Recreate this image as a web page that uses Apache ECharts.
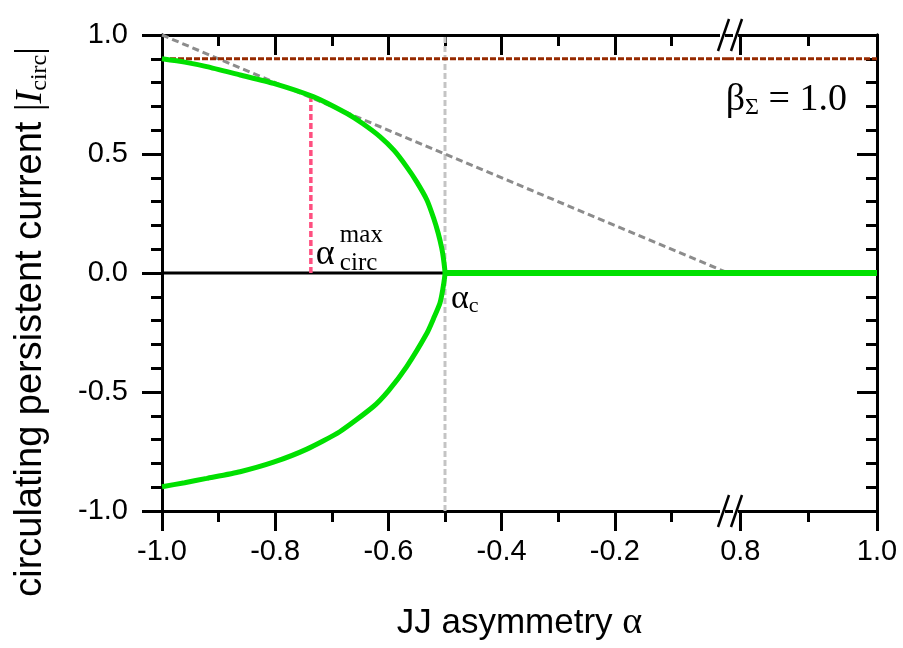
<!DOCTYPE html>
<html>
<head>
<meta charset="utf-8">
<script src="https://cdn.jsdelivr.net/npm/echarts@6/dist/echarts.min.js"></script>
<style>
  html, body { margin: 0; padding: 0; background: #ffffff; }
  #chart { width: 903px; height: 648px; }
</style>
</head>
<body>
<div id="chart"></div>
<script>
// Circulating persistent current |I_circ| versus JJ asymmetry alpha (beta_Sigma = 1.0)

// Upper branch of the current (alpha, I)
const upperAlpha   = [-1.0, -0.96, -0.921, -0.862, -0.803, -0.733, -0.674, -0.645, -0.615, -0.59, -0.568, -0.55, -0.532, -0.52, -0.512, -0.506, -0.503, -0.5];
const upperCurrent = [0.90, 0.886, 0.867, 0.832, 0.797, 0.741, 0.671, 0.627, 0.573, 0.515, 0.447, 0.383, 0.307, 0.23, 0.167, 0.107, 0.065, 0.0];
// Lower branch of the current (alpha, I)
const lowerAlpha   = [-1.0, -0.96, -0.921, -0.862, -0.803, -0.744, -0.686, -0.627, -0.60, -0.568, -0.532, -0.52, -0.509, -0.504, -0.5];
const lowerCurrent = [-0.898, -0.881, -0.863, -0.835, -0.795, -0.74, -0.667, -0.562, -0.495, -0.394, -0.253, -0.19, -0.127, -0.07, 0.0];

// Zero-current state beyond the critical asymmetry
const zeroLeftAlpha  = [-0.5, 0.0];
const zeroRightAlpha = [0.782, 1.0];
// Zero line before the critical asymmetry
const baselineAlpha = [-1.0, -0.5];

// Saturation level of the current
const saturationLevel = 0.9;
// Reference diagonal |I| = |alpha|
const diagonalAlpha   = [-1.0, 0.0];
const diagonalCurrent = [1.0, 0.0];
// Critical asymmetry and position of the maximum circulating asymmetry
const alphaCritical = -0.5;
const alphaCircMax = -0.737;
const currentAtCircMax = 0.744;

// Broken x axis: two segments
const leftRange  = [-1.0, 0.0];
const rightRange = [0.782, 1.0];
const leftMajor  = [-1.0, -0.8, -0.6, -0.4, -0.2];
const leftMinor  = [-0.9, -0.7, -0.5, -0.3, -0.1];
const rightMajor = [0.8, 1.0];
const rightMinor = [0.9];
const yRange = [-1.0, 1.0];
const yMajor = [-1.0, -0.5, 0.0, 0.5, 1.0];
const yMinor = [-0.9, -0.8, -0.7, -0.6, -0.4, -0.3, -0.2, -0.1, 0.1, 0.2, 0.3, 0.4, 0.6, 0.7, 0.8, 0.9];

const pairs = (xs, ys) => xs.map((x, i) => [x, ys[i]]);
const flat = (xs, v) => xs.map(x => [x, v]);

const SANS = 'Liberation Sans, Arial, sans-serif';
const SERIF = 'Liberation Serif, Times New Roman, serif';
const BLACK = '#000000';
const GREEN = '#00e000';
const TICK_FONT = 29;

const chart = echarts.init(document.getElementById('chart'), null, { renderer: 'canvas' });

function xAxisDef(grid, pos, range, values, len, labels) {
  return {
    type: 'value', gridIndex: grid, position: pos, min: range[0], max: range[1],
    axisLine: { show: true, onZero: false, lineStyle: { color: BLACK, width: 3 } },
    axisTick: { show: true, inside: pos === 'top', length: len, customValues: values,
                lineStyle: { color: BLACK, width: 3 } },
    axisLabel: labels ? {
      show: true, customValues: values, margin: 26, color: BLACK,
      fontFamily: SANS, fontSize: TICK_FONT, formatter: v => v.toFixed(1)
    } : { show: false },
    splitLine: { show: false }
  };
}
function yAxisDef(grid, pos, values, len, labels) {
  return {
    type: 'value', gridIndex: grid, position: pos, min: yRange[0], max: yRange[1],
    axisLine: { show: true, onZero: false, lineStyle: { color: BLACK, width: 3 } },
    axisTick: { show: true, inside: pos === 'right', length: len, customValues: values,
                lineStyle: { color: BLACK, width: 3 } },
    axisLabel: labels ? {
      show: true, customValues: values, margin: 34, color: BLACK,
      fontFamily: SANS, fontSize: TICK_FONT, formatter: v => v.toFixed(1)
    } : { show: false },
    splitLine: { show: false }
  };
}

const option = {
  animation: false,
  backgroundColor: '#ffffff',
  grid: [
    { left: 162, top: 35, width: 566, height: 476, outerBoundsMode: 'none', containLabel: false },
    { left: 728, top: 35, width: 149, height: 476, outerBoundsMode: 'none', containLabel: false }
  ],
  xAxis: [
    xAxisDef(0, 'bottom', leftRange, leftMajor, 20, true),
    xAxisDef(0, 'bottom', leftRange, leftMinor, 11, false),
    xAxisDef(0, 'top', leftRange, leftMajor, 20, false),
    xAxisDef(0, 'top', leftRange, leftMinor, 11, false),
    xAxisDef(1, 'bottom', rightRange, rightMajor, 20, true),
    xAxisDef(1, 'bottom', rightRange, rightMinor, 11, false),
    xAxisDef(1, 'top', rightRange, rightMajor, 20, false),
    xAxisDef(1, 'top', rightRange, rightMinor, 11, false)
  ],
  yAxis: [
    yAxisDef(0, 'left', yMajor, 20, true),
    yAxisDef(0, 'left', yMinor, 11, false),
    yAxisDef(1, 'right', yMajor, 20, false),
    yAxisDef(1, 'right', yMinor, 11, false)
  ],
  series: [
    // light grey dashed marker of the critical asymmetry
    { type: 'line', xAxisIndex: 0, yAxisIndex: 0, symbol: 'none', silent: true, z: 1,
      data: [[alphaCritical, yRange[0]], [alphaCritical, yRange[1]]],
      lineStyle: { color: '#c4c4c4', width: 3, type: [6, 3] } },
    // grey dashed diagonal
    { type: 'line', xAxisIndex: 0, yAxisIndex: 0, symbol: 'none', silent: true, z: 2,
      data: pairs(diagonalAlpha, diagonalCurrent),
      lineStyle: { color: '#8c8c8c', width: 3, type: [7, 4] } },
    // black zero line
    { type: 'line', xAxisIndex: 0, yAxisIndex: 0, symbol: 'none', silent: true, z: 2,
      data: flat(baselineAlpha, 0), lineStyle: { color: BLACK, width: 3 } },
    // saturation level, brown dotted
    { type: 'line', xAxisIndex: 0, yAxisIndex: 0, symbol: 'none', silent: true, z: 3,
      data: flat(leftRange, saturationLevel), lineStyle: { color: '#962a00', width: 3, type: [6, 2] } },
    { type: 'line', xAxisIndex: 4, yAxisIndex: 2, symbol: 'none', silent: true, z: 3,
      data: flat(rightRange, saturationLevel), lineStyle: { color: '#962a00', width: 3, type: [6, 2] } },
    // pink dashed marker of alpha_circ^max
    { type: 'line', xAxisIndex: 0, yAxisIndex: 0, symbol: 'none', silent: true, z: 4,
      data: [[alphaCircMax, 0], [alphaCircMax, currentAtCircMax]],
      lineStyle: { color: '#ff4f80', width: 3.5, type: [6, 3] } },
    // circulating current, both branches
    { type: 'line', xAxisIndex: 0, yAxisIndex: 0, symbol: 'none', silent: true, z: 5, smooth: 0.2,
      data: pairs(upperAlpha, upperCurrent).concat(pairs(lowerAlpha, lowerCurrent).reverse().slice(1)),
      lineStyle: { color: GREEN, width: 5 } },
    // zero-current state
    { type: 'line', xAxisIndex: 0, yAxisIndex: 0, symbol: 'none', silent: true, z: 5,
      data: flat(zeroLeftAlpha, 0), lineStyle: { color: GREEN, width: 6 } },
    { type: 'line', xAxisIndex: 4, yAxisIndex: 2, symbol: 'none', silent: true, z: 5,
      data: flat(zeroRightAlpha, 0), lineStyle: { color: GREEN, width: 6 } }
  ]
};
chart.setOption(option);

// Axis-break marks, axis titles and text annotations
function decorate() {
  const px = (ax, ay, v) => chart.convertToPixel({ xAxisIndex: ax, yAxisIndex: ay }, v);
  const gap = px(0, 0, [leftRange[1], yRange[0]]);
  const topGap = px(0, 0, [leftRange[1], yRange[1]]);
  const plotLeft = px(0, 0, [leftRange[0], 0])[0];
  const plotRight = px(4, 2, [rightRange[1], 0])[0];
  const elems = [];
  [gap[1], topGap[1]].forEach(y => {
    [-4, 9].forEach(dx => {
      elems.push({ type: 'rect', shape: { x: gap[0] + dx - 4, y: y - 3, width: 5, height: 6 },
                   style: { fill: '#ffffff' }, z: 100 });
      elems.push({ type: 'line', shape: { x1: gap[0] + dx - 6, y1: y + 16, x2: gap[0] + dx + 5, y2: y - 16 },
                   style: { stroke: BLACK, lineWidth: 2.5 }, z: 101 });
    });
  });
  // y-axis title, rotated
  elems.push({ type: 'text', x: 31, y: 322, rotation: Math.PI / 2, z: 110,
    style: { align: 'center', verticalAlign: 'middle',
      text: '{t|circulating persistent current }{b||}{i|I}{s|circ}{b||}',
      rich: {
        t: { fontFamily: SANS, fontSize: 38, fill: BLACK, lineHeight: 42 },
        b: { fontFamily: SERIF, fontSize: 38, fill: BLACK, lineHeight: 42 },
        i: { fontFamily: SERIF, fontSize: 38, fontStyle: 'italic', fill: BLACK, lineHeight: 42 },
        s: { fontFamily: SERIF, fontSize: 24, fill: BLACK, lineHeight: 24, verticalAlign: 'bottom' }
      } } });
  // x-axis title
  elems.push({ type: 'text', x: (plotLeft + plotRight) / 2, y: 604, z: 110,
    style: { align: 'center', text: '{t|JJ asymmetry }{a|α}', rich: {
      t: { fontFamily: SANS, fontSize: 35, fill: BLACK },
      a: { fontFamily: SERIF, fontSize: 38, fill: BLACK } } } });
  const c = px(0, 0, [alphaCritical, 0]);
  elems.push({ type: 'text', x: c[0] + 6, y: c[1] + 8, z: 110,
    style: { text: '{a|α}{s|c}', rich: {
      a: { fontFamily: SERIF, fontSize: 34, fill: BLACK, lineHeight: 36 },
      s: { fontFamily: SERIF, fontSize: 22, fill: BLACK, lineHeight: 22, verticalAlign: 'bottom' } } } });
  const m = px(0, 0, [alphaCircMax, 0]);
  elems.push({ type: 'text', x: m[0] + 5, y: m[1] - 36, z: 110,
    style: { text: 'α', fontFamily: SERIF, fontSize: 36, fill: BLACK } });
  elems.push({ type: 'text', x: m[0] + 29, y: m[1] - 22, z: 110,
    style: { text: 'circ', fontFamily: SERIF, fontSize: 25, fill: BLACK } });
  elems.push({ type: 'text', x: m[0] + 29, y: m[1] - 50, z: 110,
    style: { text: 'max', fontFamily: SERIF, fontSize: 25, fill: BLACK } });
  elems.push({ type: 'text', x: plotRight - 30, y: 80, z: 110,
    style: { align: 'right', text: '{a|β}{s|Σ}{a| = 1.0}', rich: {
      a: { fontFamily: SERIF, fontSize: 38, fill: BLACK, lineHeight: 40 },
      s: { fontFamily: SERIF, fontSize: 24, fill: BLACK, lineHeight: 24, verticalAlign: 'bottom' } } } });
  chart.setOption({ graphic: { elements: elems } });
}
decorate();
</script>
</body>
</html>
